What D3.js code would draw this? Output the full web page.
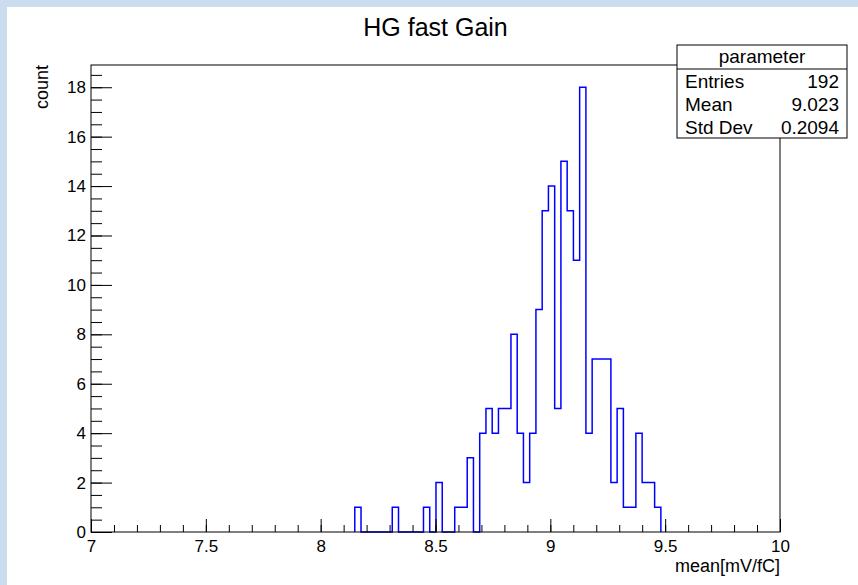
<!DOCTYPE html>
<html>
<head>
<meta charset="utf-8">
<script src="https://cdn.jsdelivr.net/npm/d3@7"></script>
<style>
  html, body { margin: 0; padding: 0; background: #c9ddef; }
  svg { display: block; }
  text { font-family: "Liberation Sans", Arial, Helvetica, sans-serif; fill: #000; }
</style>
</head>
<body>
<svg></svg>
<script>
// Histogram definition
const binLow = 8.1485;
const binWidth = 0.0272;
const counts = [1, 0, 0, 0, 0, 0, 1, 0, 0, 0, 0, 1, 0, 2, 0, 0, 1, 1, 3, 0,
  4, 5, 4, 5, 5, 8, 4, 2, 4, 9, 13, 14, 5, 15, 13, 11, 18, 4, 7, 7,
  7, 2, 5, 1, 1, 4, 2, 2, 1];

const xMajor = [7, 7.5, 8, 8.5, 9, 9.5, 10];
const yMajor = [0, 2, 4, 6, 8, 10, 12, 14, 16, 18];

const statsTitle = "parameter";
const statsRows = [["Entries", "192"], ["Mean", "9.023"], ["Std Dev", "0.2094"]];

const W = 858, H = 585;
const frame = { left: 91, right: 780, top: 65, bottom: 532 };

const svg = d3.select("svg")
  .attr("width", W)
  .attr("height", H);

// white pad
svg.append("rect")
  .attr("x", 7).attr("y", 7)
  .attr("width", W - 7).attr("height", H - 7)
  .attr("fill", "#fff");

const x = d3.scaleLinear().domain([7, 10]).range([frame.left, frame.right]);
const y = d3.scaleLinear().domain([0, 18.9]).range([frame.bottom, frame.top]);

// histogram outline
const pts = [[binLow, 0]];
counts.forEach((c, i) => {
  pts.push([binLow + i * binWidth, c]);
  pts.push([binLow + (i + 1) * binWidth, c]);
});
pts.push([binLow + counts.length * binWidth, 0]);

svg.append("path")
  .attr("d", d3.line().x(d => x(d[0])).y(d => y(d[1]))(pts))
  .attr("fill", "none")
  .attr("stroke", "#0000ff")
  .attr("stroke-width", 1.5);

// x axis
const xMinor = d3.range(70, 101).map(d => d / 10);
svg.append("g")
  .attr("transform", `translate(0,${frame.bottom})`)
  .call(d3.axisBottom(x).tickValues(xMinor).tickSize(-7).tickFormat(""))
  .call(g => g.select(".domain").remove());

svg.append("g")
  .attr("transform", `translate(0,${frame.bottom})`)
  .call(d3.axisBottom(x).tickValues(xMajor).tickSize(-13).tickPadding(8).tickFormat(d3.format("~g")))
  .call(g => g.select(".domain").remove())
  .call(g => g.selectAll("text").attr("font-size", 17).attr("font-family", null));

// y axis
const yMinor = d3.range(0, 38).map(d => d * 0.5);
svg.append("g")
  .attr("transform", `translate(${frame.left},0)`)
  .call(d3.axisLeft(y).tickValues(yMinor).tickSize(-11).tickFormat(""))
  .call(g => g.select(".domain").remove());

svg.append("g")
  .attr("transform", `translate(${frame.left},0)`)
  .call(d3.axisLeft(y).tickValues(yMajor).tickSize(-21).tickPadding(5))
  .call(g => g.select(".domain").remove())
  .call(g => g.selectAll("text").attr("font-size", 17).attr("font-family", null));

svg.selectAll(".tick line").attr("stroke", "#000");

// frame
svg.append("rect")
  .attr("x", frame.left).attr("y", frame.top)
  .attr("width", frame.right - frame.left)
  .attr("height", frame.bottom - frame.top)
  .attr("fill", "none")
  .attr("stroke", "#000");

// titles
svg.append("text")
  .attr("x", (frame.left + frame.right) / 2)
  .attr("y", 36)
  .attr("text-anchor", "middle")
  .attr("font-size", 25)
  .text("HG fast Gain");

svg.append("text")
  .attr("transform", `translate(48,${frame.top}) rotate(-90)`)
  .attr("text-anchor", "end")
  .attr("font-size", 18)
  .text("count");

svg.append("text")
  .attr("x", frame.right)
  .attr("y", 572)
  .attr("text-anchor", "end")
  .attr("font-size", 18)
  .text("mean[mV/fC]");

// stats box
const box = { x: 677, y: 45, w: 170, h: 93, head: 24 };
const stats = svg.append("g");
stats.append("rect")
  .attr("x", box.x).attr("y", box.y)
  .attr("width", box.w).attr("height", box.h)
  .attr("fill", "#fff")
  .attr("stroke", "#000");
stats.append("line")
  .attr("x1", box.x).attr("x2", box.x + box.w)
  .attr("y1", box.y + box.head).attr("y2", box.y + box.head)
  .attr("stroke", "#000");
stats.append("text")
  .attr("x", box.x + box.w / 2)
  .attr("y", box.y + 18)
  .attr("text-anchor", "middle")
  .attr("font-size", 19)
  .text(statsTitle);
statsRows.forEach((r, i) => {
  const ty = box.y + box.head + 19 + i * 23;
  stats.append("text").attr("x", box.x + 8).attr("y", ty).attr("font-size", 19).text(r[0]);
  stats.append("text").attr("x", box.x + box.w - 8).attr("y", ty)
    .attr("text-anchor", "end").attr("font-size", 19).text(r[1]);
});
</script>
</body>
</html>
